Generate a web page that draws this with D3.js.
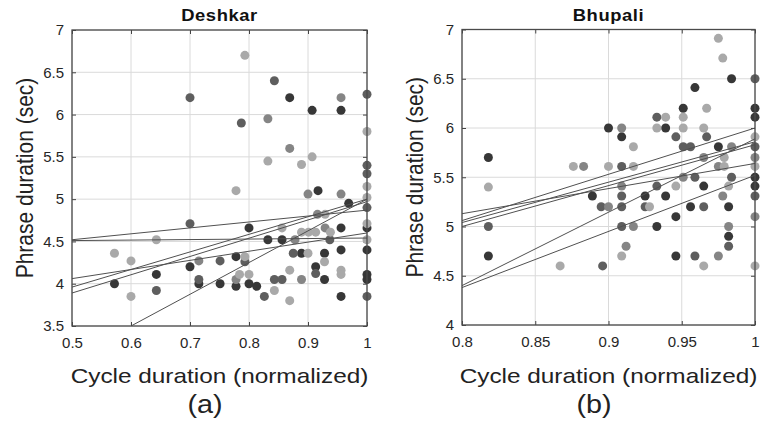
<!DOCTYPE html>
<html><head><meta charset="utf-8">
<script src="https://cdn.jsdelivr.net/npm/d3@7"></script>
<style>body{margin:0;background:#fff}svg{display:block;font-family:"Liberation Sans",Arial,sans-serif}</style>
</head><body>
<svg id="c" width="761" height="430"></svg>
<script>
// ---------- DATA ----------
const titles = ["Deshkar", "Bhupali"];
const panelLabels = ["(a)", "(b)"];
const xTicksA = [0.5, 0.6, 0.7, 0.8, 0.9, 1];
const yTicksA = [3.5, 4, 4.5, 5, 5.5, 6, 6.5, 7];
const xTicksB = [0.8, 0.85, 0.9, 0.95, 1];
const yTicksB = [4, 4.5, 5, 5.5, 6, 6.5, 7];
const shadeColors = ["#373737", "#5e5e5e", "#858585", "#a9a9a9"];

// Deshkar points by shade [cycle, phrase]
const deshkarDarkest = [[0.869,6.20],[0.907,6.05],[0.956,6.05],[0.917,5.10],[0.969,4.95],[0.80,4.66],[0.956,4.66],[1.0,4.66],[0.832,4.52],[0.856,4.52],[0.70,4.20],[0.778,4.32],[0.889,4.36],[0.928,4.36],[0.956,4.40],[1.0,4.40],[0.913,4.20],[1.0,4.11],[1.0,4.05],[0.643,4.11],[0.572,4.00],[0.715,4.00],[0.751,4.00],[0.778,3.97],[0.80,4.00],[0.813,3.97],[0.928,4.05],[0.956,3.85]];
const deshkarDark = [[0.843,6.40],[0.70,6.20],[1.0,6.24],[0.787,5.90],[1.0,5.40],[1.0,5.30],[1.0,4.90],[0.70,4.71],[0.937,4.52],[0.751,4.27],[0.793,4.26],[0.875,4.36],[0.913,4.12],[0.643,3.92],[0.715,4.05],[0.826,3.85],[0.843,4.05],[0.856,4.05],[1.0,3.85]];
const deshkarMedium = [[0.956,6.20],[0.832,5.95],[0.869,5.60],[0.90,5.06],[0.956,5.06],[0.916,4.82],[0.929,4.66],[0.878,4.52],[0.715,4.27],[0.778,4.05],[0.889,4.05]];
const deshkarLight = [[0.793,6.70],[1.0,5.80],[0.832,5.45],[0.889,5.41],[0.907,5.50],[0.778,5.10],[1.0,5.15],[1.0,5.02],[0.929,4.82],[0.856,4.66],[1.0,4.71],[0.938,4.61],[0.889,4.61],[0.901,4.61],[0.913,4.61],[1.0,4.52],[0.643,4.52],[0.572,4.36],[0.60,4.27],[0.793,4.32],[0.90,4.36],[0.928,4.26],[0.869,4.16],[0.956,4.16],[0.956,4.11],[0.60,3.85],[0.784,4.11],[0.80,4.11],[0.843,3.92],[0.869,3.80]];
// Deshkar fit lines [x0, y0, x1, y1]
const deshkarFits = [[0.5,4.52,1,4.87],[0.5,4.51,1,4.54],[0.5,4.06,1,4.60],[0.5,3.96,1,5.00],[0.5,3.89,1,4.97],[0.6,3.50,1,5.00]];

// Bhupali points by shade
const bhupaliDarkest = [[0.984,6.50],[0.959,6.41],[0.951,6.20],[1.0,6.20],[1.0,6.11],[0.90,6.00],[0.939,6.00],[0.909,5.91],[0.975,5.81],[0.818,5.70],[0.889,5.31],[0.939,5.31],[0.965,5.41],[1.0,5.50],[1.0,5.41],[0.925,5.31],[0.956,5.20],[0.982,5.20],[0.933,5.00],[0.946,5.10],[0.982,4.90],[0.818,4.70],[0.946,4.70]];
const bhupaliDark = [[1.0,6.50],[0.933,6.11],[0.946,5.91],[0.967,5.91],[1.0,5.81],[0.951,5.81],[0.956,5.81],[0.909,5.61],[0.909,5.31],[0.933,5.41],[0.959,5.50],[0.984,5.50],[1.0,5.31],[0.895,5.20],[0.909,5.20],[0.925,5.20],[0.965,5.20],[0.818,5.00],[0.909,5.00],[0.982,4.80],[0.959,4.70],[0.896,4.60]];
const bhupaliMedium = [[0.909,6.00],[0.984,5.81],[0.883,5.61],[0.965,5.70],[0.975,5.61],[1.0,5.70],[0.909,5.41],[0.951,5.50],[0.978,5.31],[0.90,5.20],[0.917,5.00],[0.982,5.00],[1.0,5.10],[0.912,4.80],[0.975,4.70]];
const bhupaliLight = [[0.975,6.91],[0.978,6.71],[0.967,6.20],[0.939,6.11],[0.951,6.11],[0.933,6.00],[0.951,6.00],[0.965,6.00],[1.0,5.91],[0.917,5.81],[0.876,5.61],[0.90,5.61],[0.917,5.61],[0.979,5.61],[0.979,5.70],[1.0,5.61],[0.818,5.40],[0.946,5.41],[0.982,5.41],[0.928,5.20],[0.909,4.70],[0.867,4.60],[0.965,4.60],[1.0,4.60]];
const bhupaliFits = [[0.8,5.13,1,5.64],[0.8,5.06,1,6.00],[0.8,5.04,1,5.86],[0.8,5.00,1,5.83],[0.8,4.40,1,5.89],[0.8,4.38,1,5.52]];

// ---------- DRAW ----------
const svg = d3.select("#c");
const panels = [
  {box:[72,367,30,326], xd:[0.5,1], yd:[3.5,7], xt:xTicksA, yt:yTicksA, shades:[deshkarDarkest,deshkarDark,deshkarMedium,deshkarLight], fits:deshkarFits, ylabX:33, plabX:205},
  {box:[462,755,29.5,325], xd:[0.8,1], yd:[4,7], xt:xTicksB, yt:yTicksB, shades:[bhupaliDarkest,bhupaliDark,bhupaliMedium,bhupaliLight], fits:bhupaliFits, ylabX:423, plabX:594}
];

panels.forEach((p, i) => {
  const [x0,x1,y0,y1] = p.box;
  const x = d3.scaleLinear().domain(p.xd).range([x0,x1]);
  const y = d3.scaleLinear().domain(p.yd).range([y1,y0]);
  const g = svg.append("g");
  const cid = "clip"+i;
  svg.append("clipPath").attr("id",cid).append("rect").attr("x",x0).attr("y",y0).attr("width",x1-x0).attr("height",y1-y0);

  // grid
  g.append("g").selectAll("line").data(p.xt).join("line")
    .attr("x1",d=>x(d)).attr("x2",d=>x(d)).attr("y1",y0).attr("y2",y1)
    .attr("stroke","#dadada").attr("stroke-width",1);
  g.append("g").selectAll("line").data(p.yt).join("line")
    .attr("y1",d=>y(d)).attr("y2",d=>y(d)).attr("x1",x0).attr("x2",x1)
    .attr("stroke","#dadada").attr("stroke-width",1);

  // axes
  const ax = g.append("g").attr("transform",`translate(0,${y1})`)
    .call(d3.axisBottom(x).tickValues(p.xt).tickFormat(d3.format("~g")).tickSizeInner(-4).tickSizeOuter(0).tickPadding(11));
  const ay = g.append("g").attr("transform",`translate(${x0},0)`)
    .call(d3.axisLeft(y).tickValues(p.yt).tickFormat(d3.format("~g")).tickSizeInner(-4).tickSizeOuter(0).tickPadding(8));
  const axT = g.append("g").attr("transform",`translate(0,${y0})`)
    .call(d3.axisTop(x).tickValues(p.xt).tickFormat("").tickSizeInner(-4).tickSizeOuter(0));
  const ayR = g.append("g").attr("transform",`translate(${x1},0)`)
    .call(d3.axisRight(y).tickValues(p.yt).tickFormat("").tickSizeInner(-4).tickSizeOuter(0));
  [ax,ay,axT,ayR].forEach(a=>{
    a.select(".domain").remove();
    a.selectAll(".tick line").attr("stroke","#444");
    a.selectAll("text").attr("fill","#262626").style("font-size","15px").style("font-family","Liberation Sans, Arial, sans-serif");
  });

  // points
  p.shades.forEach((arr, k) => {
    g.append("g").selectAll("circle").data(arr).join("circle")
      .attr("cx",d=>x(d[0])).attr("cy",d=>y(d[1])).attr("r",4.5)
      .attr("fill",shadeColors[k]);
  });

  // fit lines
  g.append("g").attr("clip-path",`url(#${cid})`).selectAll("line").data(p.fits).join("line")
    .attr("x1",d=>x(d[0])).attr("y1",d=>y(d[1])).attr("x2",d=>x(d[2])).attr("y2",d=>y(d[3]))
    .attr("stroke","#505050").attr("stroke-width",1);

  // box
  g.append("rect").attr("x",x0).attr("y",y0).attr("width",x1-x0).attr("height",y1-y0)
    .attr("fill","none").attr("stroke","#4a4a4a").attr("stroke-width",1.3);

  const cx = (x0+x1)/2;
  svg.append("text").attr("transform",`translate(${cx},21) scale(1.15,1)`).attr("text-anchor","middle")
    .style("font-size","16px").style("font-weight","bold").style("letter-spacing","0.5px").attr("fill","#111").text(titles[i]);
  svg.append("text").attr("transform",`translate(${cx},383) scale(1.16,1)`).attr("text-anchor","middle")
    .style("font-size","21px").attr("fill","#222").text("Cycle duration (normalized)");
  svg.append("text").attr("transform",`translate(${p.plabX},413) scale(1.15,1)`).attr("text-anchor","middle")
    .style("font-size","25px").attr("fill","#222").text(panelLabels[i]);
  svg.append("text").attr("transform",`translate(${p.ylabX},${(y0+y1)/2}) scale(1.18,1) rotate(-90)`)
    .attr("text-anchor","middle").style("font-size","21px").attr("fill","#222").text("Phrase duration (sec)");
});
</script>
</body></html>
